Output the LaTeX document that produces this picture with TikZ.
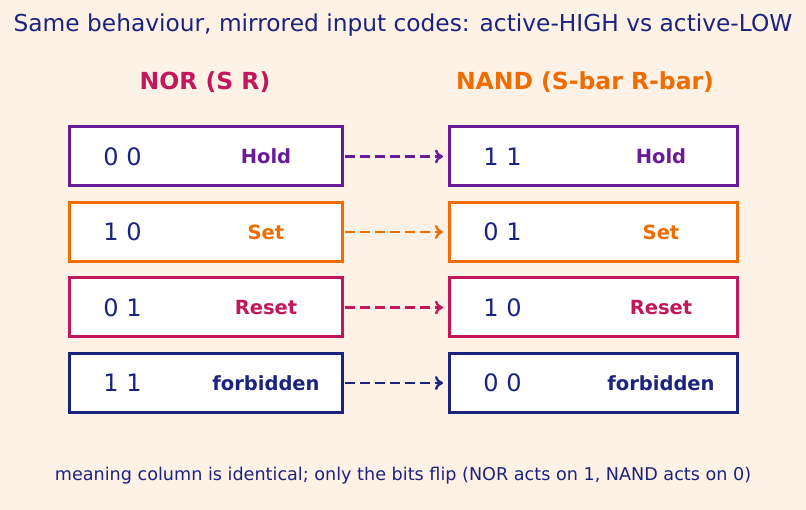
\documentclass[tikz,border=0pt]{standalone}
\usepackage{fontspec}
\setmainfont{DejaVu Sans}
\usepackage{tikz}
\usetikzlibrary{arrows.meta}

\definecolor{bgpeach}{HTML}{FEF1E6}
\definecolor{navy}{HTML}{1A237E}
\definecolor{holdpurple}{HTML}{6A1B9A}
\definecolor{setorange}{HTML}{EF6C00}
\definecolor{resetred}{HTML}{C2185B}

\tikzset{
	rowbox/.style = {draw=#1, line width=3pt, fill=white, inner sep=0pt,
		minimum height=59pt},
	norbox/.style = {rowbox=#1, minimum width=273pt},
	nandbox/.style = {rowbox=#1, minimum width=288pt},
	code/.style = {text=navy, font=\fontsize{24}{28}\selectfont},
	meaning/.style = {text=#1, font=\fontsize{19.5}{23}\selectfont\bfseries},
	maps/.style = {draw=#1, dash pattern=on 10pt off 5pt, line width=2.6pt,
		-{To[length=8pt,width=14pt,line width=2.4pt]}, shorten <=1pt, shorten >=5pt}
}

\begin{document}
\begin{tikzpicture}[x=1pt, y=-1pt]
	\fill[bgpeach] (0,0) rectangle (806,510);
	\useasboundingbox (0,0) rectangle (806,510);
	\node (title) [text=navy, font=\fontsize{23.3}{27}\selectfont] at (403,25)
		{Same behaviour, mirrored input codes: active-HIGH vs active-LOW};
	\node (norhead) [text=resetred, font=\fontsize{23.5}{27}\selectfont\bfseries] at (205,82) {NOR (S R)};
	\node (nandhead) [text=setorange, font=\fontsize{23.5}{27}\selectfont\bfseries] at (585,82) {NAND (S-bar R-bar)};
	% left column
	\node (nor1) [norbox=holdpurple] at (206,156.5) {};
	\node (nor2) [norbox=setorange] at (206,232) {};
	\node (nor3) [norbox=resetred] at (206,307.5) {};
	\node (nor4) [norbox=navy] at (206,383) {};
	% right column
	\node (nand1) [nandbox=holdpurple] at (593.5,156.5) {};
	\node (nand2) [nandbox=setorange] at (593.5,232) {};
	\node (nand3) [nandbox=resetred] at (593.5,307.5) {};
	\node (nand4) [nandbox=navy] at (593.5,383) {};
	% codes and meanings
	\node (norc1) [code] at (122.5,156.5) {0 0};
	\node (norc2) [code] at (122.5,232) {1 0};
	\node (norc3) [code] at (122.5,307.5) {0 1};
	\node (norc4) [code] at (122.5,383) {1 1};
	\node (norm1) [meaning=holdpurple] at (266,156.5) {Hold};
	\node (norm2) [meaning=setorange] at (266,232) {Set};
	\node (norm3) [meaning=resetred] at (266,307.5) {Reset};
	\node (norm4) [meaning=navy] at (266,383) {forbidden};
	\node (nandc1) [code] at (502.5,156.5) {1 1};
	\node (nandc2) [code] at (502.5,232) {0 1};
	\node (nandc3) [code] at (502.5,307.5) {1 0};
	\node (nandc4) [code] at (502.5,383) {0 0};
	\node (nandm1) [meaning=holdpurple] at (661,156.5) {Hold};
	\node (nandm2) [meaning=setorange] at (661,232) {Set};
	\node (nandm3) [meaning=resetred] at (661,307.5) {Reset};
	\node (nandm4) [meaning=navy] at (661,383) {forbidden};
	% mapping arrows
	\draw [maps=holdpurple] (nor1) -- (nand1);
	\draw [maps=setorange] (nor2) -- (nand2);
	\draw [maps=resetred] (nor3) -- (nand3);
	\draw [maps=navy] (nor4) -- (nand4);
	\node (footer) [text=navy, font=\fontsize{17.6}{21}\selectfont] at (403,476)
		{meaning column is identical; only the bits flip (NOR acts on 1, NAND acts on 0)};
\end{tikzpicture}
\end{document}
